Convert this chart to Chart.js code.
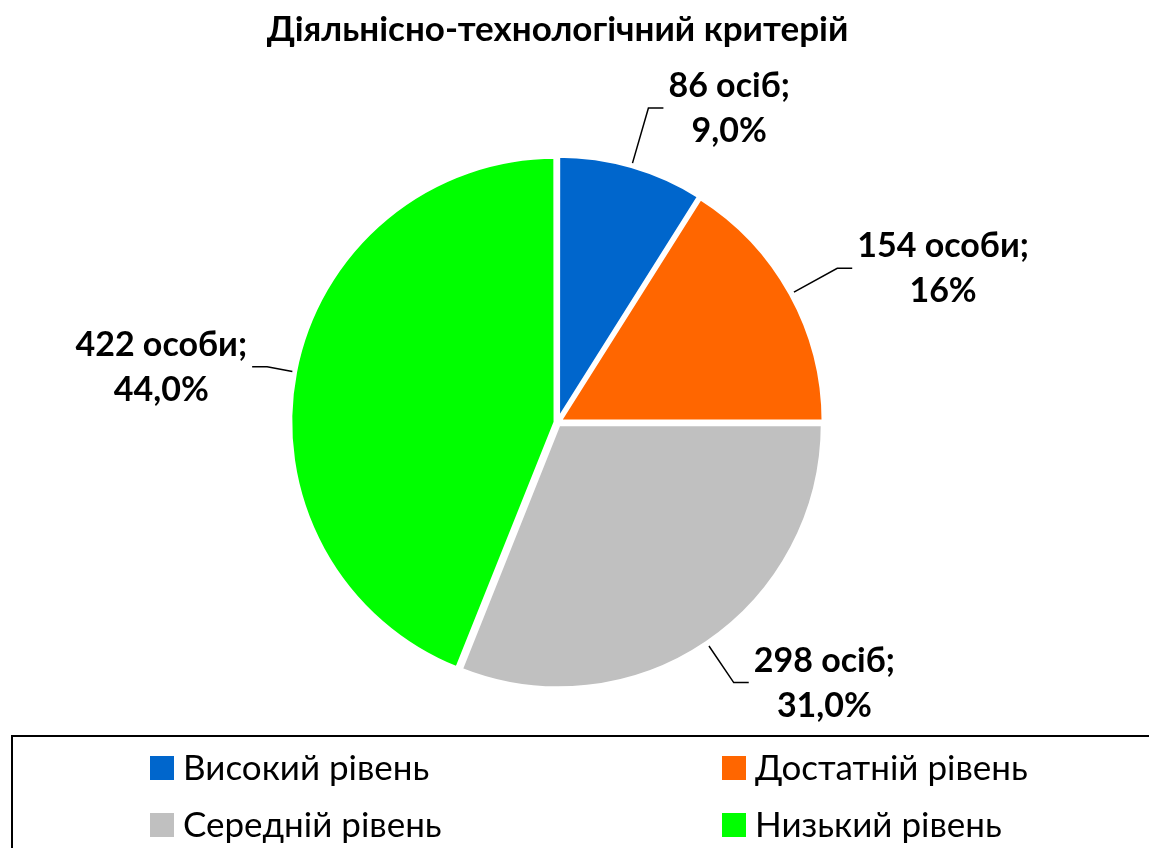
<!DOCTYPE html>
<html>
<head>
<meta charset="utf-8">
<script src="https://cdn.jsdelivr.net/npm/chart.js@4.4.1/dist/chart.umd.min.js"></script>
<style>
  html, body { margin: 0; padding: 0; background: #fff; }
  #wrap { width: 1149px; height: 848px; }
</style>
</head>
<body>
<div id="wrap"><canvas id="myChart"></canvas></div>
<script>
(function () {
  "use strict";

  var levels = ["Високий рівень", "Достатній рівень", "Середній рівень", "Низький рівень"];
  var people = [86, 154, 298, 422];
  var peopleWord = ["осіб", "особи", "осіб", "особи"];
  var percents = ["9,0%", "16%", "31,0%", "44,0%"];
  var colors = ["#0066CC", "#FF6600", "#C0C0C0", "#00FF00"];

  var FONT = "Lato, 'Open Sans', sans-serif";

  // labels outside the slices with a bent leader line
  var sliceLabels = {
    id: "sliceLabels",
    afterDatasetsDraw: function (chart, args, opts) {
      var ctx = chart.ctx;
      var meta = chart.getDatasetMeta(0);
      var reach = opts.reach || [];
      ctx.save();
      ctx.font = "bold 34px " + FONT;
      ctx.fillStyle = "#000";
      ctx.strokeStyle = "#000";
      ctx.lineWidth = 1.5;
      ctx.textBaseline = "middle";
      ctx.textAlign = "center";
      meta.data.forEach(function (arc, i) {
        var p = arc.getProps(["x", "y", "startAngle", "endAngle", "outerRadius"], true);
        var mid = (p.startAngle + p.endAngle) / 2;
        var cos = Math.cos(mid), sin = Math.sin(mid);
        var r = p.outerRadius;
        var k = reach[i] || 1.2;
        var sx = p.x + cos * (r + 6), sy = p.y + sin * (r + 6);
        var ex = p.x + cos * r * k, ey = p.y + sin * r * k;
        var side = cos >= 0 ? 1 : -1;
        var hx = ex + side * 15;
        ctx.beginPath();
        ctx.moveTo(sx, sy);
        ctx.lineTo(ex, ey);
        ctx.lineTo(hx, ey);
        ctx.stroke();
        var l1 = people[i] + " " + peopleWord[i] + ";";
        var l2 = percents[i];
        var w = Math.max(ctx.measureText(l1).width, ctx.measureText(l2).width);
        var cx = hx + side * (5 + w / 2);
        ctx.fillText(l1, cx, ey - 22);
        ctx.fillText(l2, cx, ey + 23);
      });
      ctx.restore();
    }
  };

  // boxed two-column legend at the bottom
  var boxLegend = {
    id: "boxLegend",
    afterDraw: function (chart) {
      var ctx = chart.ctx;
      var ds = chart.data.datasets[0];
      ctx.save();
      ctx.strokeStyle = "#000";
      ctx.lineWidth = 2;
      ctx.strokeRect(12, 736, 1160, 140);
      ctx.font = "35px " + FONT;
      ctx.textBaseline = "middle";
      ctx.textAlign = "left";
      var colX = [150, 722];
      var rowY = [768, 825];
      chart.data.labels.forEach(function (lab, i) {
        var x = colX[i % 2], y = rowY[Math.floor(i / 2)];
        ctx.fillStyle = ds.backgroundColor[i];
        ctx.fillRect(x, y - 12, 24, 24);
        ctx.fillStyle = "#000";
        ctx.fillText(lab, x + 33, y + 1);
      });
      ctx.restore();
    }
  };

  var ctx = document.getElementById("myChart");
  var myChart = new Chart(ctx, {
    type: "pie",
    data: {
      labels: levels,
      datasets: [
        {
          data: people,
          backgroundColor: colors,
          borderColor: "#fff",
          borderWidth: 4,
          offset: 8,
          radius: 264,
        },
      ],
    },
    options: {
      responsive: true,
      maintainAspectRatio: false,
      animation: false,
      layout: { padding: { left: 0, right: 34, top: 0, bottom: 62 } },
      plugins: {
        legend: { display: false },
        tooltip: { enabled: false },
        sliceLabels: { reach: [1.24, 1.21, 1.19, 1.12] },
        title: {
          display: true,
          text: "Діяльнісно-технологічний критерій",
          color: "#000",
          font: { family: FONT, size: 35, weight: "bold" },
          padding: { top: 9, bottom: 8 },
        },
      },
    },
    plugins: [sliceLabels, boxLegend],
  });
})();
</script>
</body>
</html>
